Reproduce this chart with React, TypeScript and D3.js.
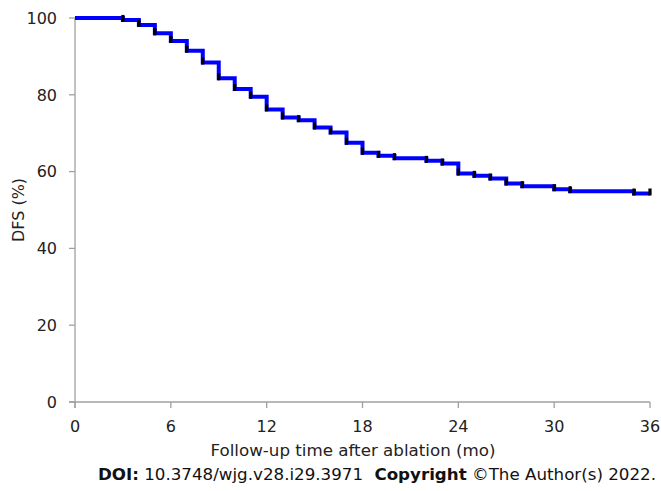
import React from "react";
import * as d3 from "d3";

const times = [0, 3, 4, 5, 6, 7, 8, 9, 10, 11, 12, 13, 14, 15, 16, 17, 18, 19, 20, 22, 23, 24, 25, 26, 27, 28, 30, 31, 35, 36];
const dfs = [100, 99.5, 98.2, 96.0, 94.0, 91.5, 88.4, 84.3, 81.5, 79.5, 76.2, 74.1, 73.4, 71.5, 70.2, 67.5, 64.9, 64.1, 63.5, 62.8, 62.1, 59.5, 58.9, 58.2, 56.9, 56.2, 55.4, 54.9, 54.3, 54.3];
const xTicks = [0, 6, 12, 18, 24, 30, 36];
const yTicks = [0, 20, 40, 60, 80, 100];

const W = 661;
const H = 491;
const FONT = "'DejaVu Sans', Verdana, sans-serif";

export default function App() {
  const x = d3.scaleLinear().domain([0, 36]).range([75, 650]);
  const y = d3.scaleLinear().domain([0, 100]).range([402, 18]);
  const pts: [number, number][] = times.map((t, i) => [t, dfs[i]]);
  const line = d3
    .line<[number, number]>()
    .x((d) => x(d[0]))
    .y((d) => y(d[1]))
    .curve(d3.curveStepAfter);
  const axisColor = "#a0a0a0";
  return (
    <svg width={W} height={H} style={{ position: "absolute", left: 0, top: 0 }}>
      <rect width={W} height={H} fill="#fff" />
      {/* axes */}
      <line x1={x(0)} x2={x(0)} y1={y(100)} y2={y(0) + 6} stroke={axisColor} strokeWidth={1.3} />
      <line x1={x(0) - 6} x2={x(36)} y1={y(0)} y2={y(0)} stroke={axisColor} strokeWidth={1.3} />
      {yTicks.map((v) => (
        <g key={"y" + v}>
          <line x1={x(0) - 6} x2={x(0)} y1={y(v)} y2={y(v)} stroke={axisColor} strokeWidth={1.3} />
          <text x={x(0) - 18} y={y(v)} dy="0.36em" textAnchor="end" fontFamily={FONT} fontSize={16} fill="#222">
            {v}
          </text>
        </g>
      ))}
      {xTicks.map((v) => (
        <g key={"x" + v}>
          <line x1={x(v)} x2={x(v)} y1={y(0)} y2={y(0) + 6} stroke={axisColor} strokeWidth={1.3} />
          <text x={x(v)} y={432} textAnchor="middle" fontFamily={FONT} fontSize={16} fill="#222">
            {v}
          </text>
        </g>
      ))}
      <text
        transform={`translate(24,${(y(0) + y(100)) / 2}) rotate(-90)`}
        textAnchor="middle"
        fontFamily={FONT}
        fontSize={16}
        fill="#222"
      >
        DFS (%)
      </text>
      <text x={353} y={456} textAnchor="middle" fontFamily={FONT} fontSize={16.7} fill="#222">
        Follow-up time after ablation (mo)
      </text>
      <text x={656} y={480} textAnchor="end" fontFamily={FONT} fontSize={16.7} fill="#111">
        <tspan fontWeight="bold">DOI:</tspan>
        <tspan> 10.3748/wjg.v28.i29.3971 </tspan>
        <tspan fontWeight="bold" dx={6}>Copyright</tspan>
        <tspan> ©The Author(s) 2022.</tspan>
      </text>
      {/* curve */}
      <path d={line(pts) || ""} fill="none" stroke="#0000ff" strokeWidth={4} />
      {pts.slice(1).map((d, i) => (
        <rect
          key={"c" + i}
          x={x(d[0]) - 1.6}
          y={y(d[1]) - 5}
          width={3.2}
          height={7}
          fill="#000"
        />
      ))}
    </svg>
  );
}
